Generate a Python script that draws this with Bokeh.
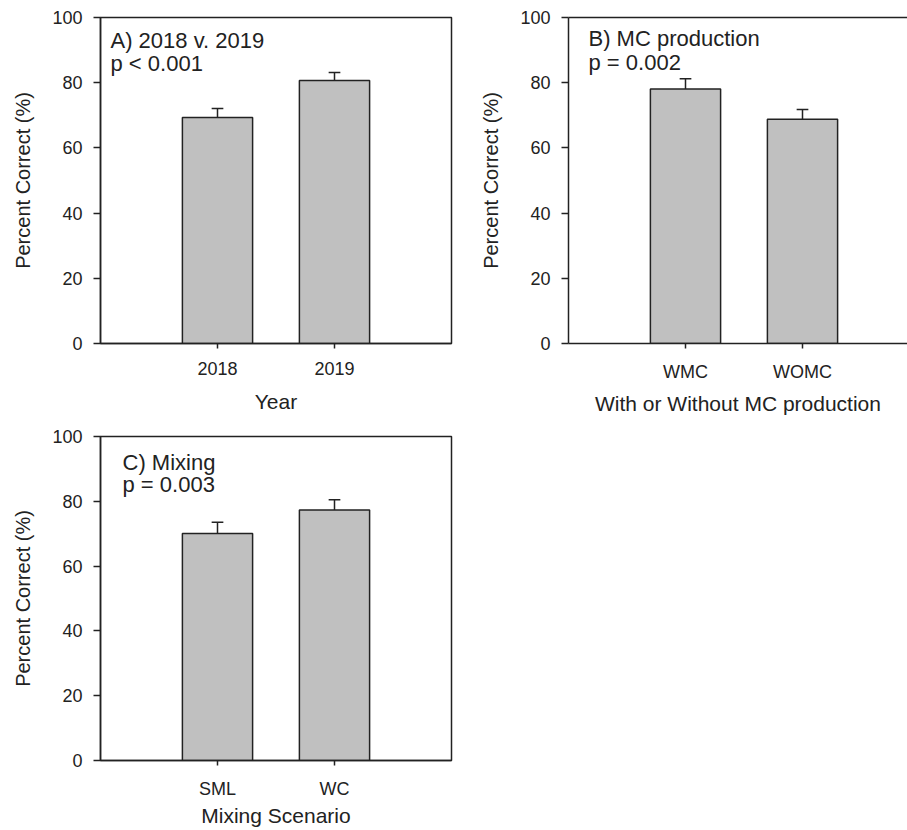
from bokeh.plotting import figure
from bokeh.models import Range1d, FixedTicker, LinearAxis, ColumnDataSource
from bokeh.layouts import column, row
from bokeh.core.properties import value
from bokeh.embed import file_html
from bokeh.resources import INLINE

# Percent correct classification, mean with standard error
years = ["2018", "2019"]
year_mean = [69.3, 80.7]
year_se = [2.8, 2.4]

mc_groups = ["WMC", "WOMC"]
mc_mean = [78.1, 68.8]
mc_se = [3.1, 3.0]

mix_groups = ["SML", "WC"]
mix_mean = [70.1, 77.3]
mix_se = [3.4, 3.2]

y_ticks = [0, 20, 40, 60, 80, 100]

FONT = "Liberation Sans"
INK = "#222222"
BAR_FILL = "#c0c0c0"


def panel(cats, means, errs, xlabel, heading, pnote, x_end, width, height,
          left, right, top, bottom, text_dx, text_y, xlabel_gap, boxed=True):
    xs = list(range(1, len(cats) + 1))
    p = figure(width=width, height=height,
               x_range=Range1d(0, x_end), y_range=Range1d(0, 100),
               output_backend="svg", toolbar_location=None,
               min_border_left=left, min_border_right=right,
               min_border_top=top, min_border_bottom=bottom)
    p.background_fill_color = "white"
    p.border_fill_color = "white"
    p.grid.visible = False

    hi = [m + e for m, e in zip(means, errs)]
    src = ColumnDataSource(dict(
        x=xs, top=means, hi=hi,
        cl=[x - 0.05 for x in xs], cr=[x + 0.05 for x in xs],
    ))
    p.vbar(x="x", top="top", bottom=0, width=0.6, source=src,
           fill_color=BAR_FILL, line_color=INK, line_width=1.5)
    # upper error bars with a short cap
    p.segment(x0="x", y0="top", x1="x", y1="hi", source=src,
              line_color=INK, line_width=1.5)
    p.segment(x0="cl", y0="hi", x1="cr", y1="hi", source=src,
              line_color=INK, line_width=1.5)

    p.text(x=[0, 0], y=text_y, text=[heading, pnote], x_offset=text_dx,
           text_baseline="middle", text_align="left",
           text_font=value(FONT), text_font_size="22px", text_color=INK)

    xa = p.xaxis[0]
    xa.ticker = FixedTicker(ticks=xs)
    xa.major_label_overrides = {x: c for x, c in zip(xs, cats)}
    xa.axis_label = xlabel
    xa.major_tick_out = 5
    xa.major_tick_in = 0
    xa.major_label_standoff = 13
    xa.axis_label_standoff = xlabel_gap
    xa.axis_label_text_font_size = "21px"

    ya = p.yaxis[0]
    ya.ticker = FixedTicker(ticks=y_ticks)
    ya.axis_label = "Percent Correct (%)"
    ya.major_tick_out = 7
    ya.major_tick_in = 0
    ya.major_label_standoff = 11
    ya.axis_label_standoff = 15
    ya.axis_label_text_font_size = "20px"

    for ax in (xa, ya):
        ax.minor_tick_line_color = None
        ax.axis_line_color = INK
        ax.axis_line_width = 1.5
        ax.major_tick_line_color = INK
        ax.major_tick_line_width = 1.5
        ax.major_label_text_font = FONT
        ax.major_label_text_font_size = "18px"
        ax.major_label_text_color = INK
        ax.axis_label_text_font = FONT
        ax.axis_label_text_font_style = "normal"
        ax.axis_label_text_color = INK

    if boxed:
        p.outline_line_color = INK
        p.outline_line_width = 1.5
    else:
        p.outline_line_color = None
        top_line = LinearAxis(ticker=FixedTicker(ticks=[]),
                              axis_line_color=INK, axis_line_width=1.5,
                              major_tick_line_color=None,
                              minor_tick_line_color=None)
        p.add_layout(top_line, "above")
    return p


pA = panel(years, year_mean, year_se, "Year", "A) 2018 v. 2019", "p < 0.001",
           3.0, 468, 422, 100, 17, 17, 79, 10, [93.0, 85.9], 12)
pB = panel(mc_groups, mc_mean, mc_se, "With or Without MC production",
           "B) MC production", "p = 0.002",
           339 / 117, 439, 422, 100, 0, 17, 79, 20, [93.6, 86.3], 7,
           boxed=False)
pC = panel(mix_groups, mix_mean, mix_se, "Mixing Scenario", "C) Mixing",
           "p = 0.003", 3.0, 468, 408, 100, 17, 14, 70, 22, [92.0, 85.1], 2)

page = column(row(pA, pB), pC)
open("out.html", "w").write(file_html(page, INLINE))
